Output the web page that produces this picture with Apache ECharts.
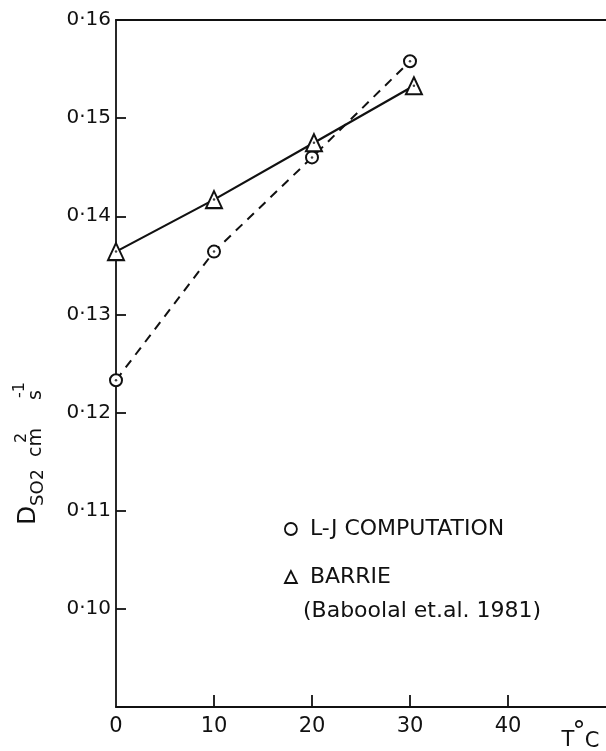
<!DOCTYPE html>
<html>
<head>
<meta charset="utf-8">
<script src="https://cdn.jsdelivr.net/npm/echarts@6/dist/echarts.min.js"></script>
<style>
  html, body { margin: 0; padding: 0; background: #fff; }
  #main { width: 606px; height: 751px; }
</style>
</head>
<body>
<div id="main"></div>
<script>
// values
var ljTemp = [0, 10, 20, 30];
var ljValues = [0.1233, 0.1364, 0.1460, 0.1558];
var barrieTemp = [0, 10, 20.2, 30.4];
var barrieValues = [0.1364, 0.1417, 0.1475, 0.1533];
var xTickValues = [0, 10, 20, 30, 40];

var FONT = 'DejaVu Sans';
var INK = '#111';

function pairs(xs, ys) {
    return xs.map(function (x, i) { return [x, ys[i]]; });
}
var ljData = pairs(ljTemp, ljValues);
var barrieData = pairs(barrieTemp, barrieValues);

var myChart = echarts.init(document.getElementById('main'));

var option = {
    backgroundColor: '#fff',
    animation: false,
    grid: { left: 116, right: 0, top: 20, bottom: 44 },
    xAxis: [{
        type: 'value',
        min: 0, max: 50, interval: 10,
        axisLine: { lineStyle: { color: INK, width: 1.8 } },
        axisTick: {
            inside: true, length: 12, customValues: xTickValues.slice(1),
            lineStyle: { color: INK, width: 1.8 }
        },
        splitLine: { show: false },
        axisLabel: {
            color: INK, fontFamily: FONT, fontSize: 21, margin: 9,
            customValues: xTickValues
        }
    }, {
        type: 'value', position: 'top',
        min: 0, max: 50,
        axisLine: { show: true, lineStyle: { color: INK, width: 1.8 } },
        axisTick: { show: false }, axisLabel: { show: false }, splitLine: { show: false }
    }],
    yAxis: {
        type: 'value',
        min: 0.09, max: 0.16, interval: 0.01,
        axisLine: { show: true, lineStyle: { color: INK, width: 1.8 } },
        axisTick: { show: true, inside: true, length: 10, lineStyle: { color: INK, width: 1.8 } },
        splitLine: { show: false },
        axisLabel: {
            color: INK, fontFamily: FONT, fontSize: 20, margin: 5,
            formatter: function (v) {
                if (v < 0.095) return '';
                return v.toFixed(2).replace('0.', '0·');
            }
        }
    },
    legend: {
        orient: 'vertical',
        left: 279, top: 513,
        itemWidth: 12, itemHeight: 12,
        itemGap: 26,
        textStyle: { color: INK, fontFamily: FONT, fontSize: 22, padding: [0, 0, 0, 8] },
        data: [
            { name: 'L-J COMPUTATION', icon: 'circle', itemStyle: { color: '#fff', borderColor: INK, borderWidth: 1.8 } },
            { name: 'BARRIE', icon: 'triangle', itemStyle: { color: '#fff', borderColor: INK, borderWidth: 1.8 } }
        ]
    },
    series: [{
        name: 'L-J COMPUTATION',
        type: 'line',
        data: ljData,
        symbol: 'circle', symbolSize: 12,
        itemStyle: { color: '#fff', borderColor: INK, borderWidth: 2 },
        lineStyle: { color: INK, width: 2, type: [9, 7] },
        z: 3
    }, {
        name: 'BARRIE',
        type: 'line',
        data: barrieData,
        symbol: 'triangle', symbolSize: [16, 17],
        itemStyle: { color: '#fff', borderColor: INK, borderWidth: 2 },
        lineStyle: { color: INK, width: 2.2 },
        z: 3
    }, {
        // centre dots inside the markers
        type: 'scatter',
        data: ljData.concat(barrieData),
        symbol: 'circle', symbolSize: 2.5,
        itemStyle: { color: INK },
        z: 5
    }],
    graphic: [{
        type: 'group',
        x: 0, y: 525,
        rotation: Math.PI / 2,
        children: [
            { type: 'text', style: { text: 'D', x: 0, y: 28, fontSize: 25, fontFamily: FONT, fill: INK, verticalAlign: 'middle' } },
            { type: 'text', style: { text: 'SO', x: 19, y: 38.5, fontSize: 18, fontFamily: FONT, fill: INK, verticalAlign: 'middle' } },
            { type: 'text', style: { text: '2', x: 45, y: 38.5, fontSize: 17, fontFamily: FONT, fill: INK, verticalAlign: 'middle' } },
            { type: 'text', style: { text: 'cm', x: 68, y: 36, fontSize: 19, fontFamily: FONT, fill: INK, verticalAlign: 'middle' } },
            { type: 'text', style: { text: '2', x: 82, y: 22, fontSize: 16, fontFamily: FONT, fill: INK, verticalAlign: 'middle' } },
            { type: 'text', style: { text: 's', x: 125, y: 36, fontSize: 19, fontFamily: FONT, fill: INK, verticalAlign: 'middle' } },
            { type: 'text', style: { text: '-1', x: 127, y: 20, fontSize: 16, fontFamily: FONT, fill: INK, verticalAlign: 'middle' } }
        ]
    },
    { type: 'text', style: { text: 'T', x: 568, y: 741, fontSize: 21, fontFamily: FONT, fill: INK, align: 'center', verticalAlign: 'middle' } },
    { type: 'text', style: { text: '°', x: 579, y: 733, fontSize: 26, fontFamily: FONT, fill: INK, align: 'center', verticalAlign: 'middle' } },
    { type: 'text', style: { text: 'C', x: 592, y: 742, fontSize: 21, fontFamily: FONT, fill: INK, align: 'center', verticalAlign: 'middle' } },
    { type: 'text', style: { text: '(Baboolal et.al. 1981)', x: 303, y: 611, fontSize: 22, fontFamily: FONT, fill: INK, verticalAlign: 'middle' } }
    ]
};

myChart.setOption(option);
</script>
</body>
</html>
